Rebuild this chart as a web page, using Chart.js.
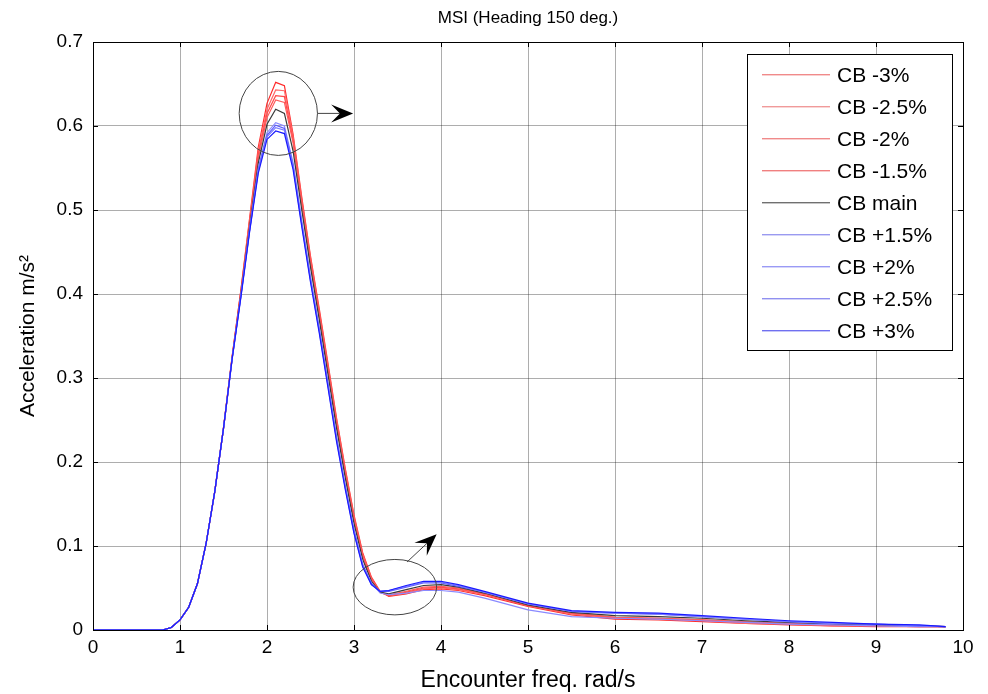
<!DOCTYPE html>
<html>
<head>
<meta charset="utf-8">
<title>MSI (Heading 150 deg.)</title>
<script src="https://cdn.jsdelivr.net/npm/chart.js@4.4.1/dist/chart.umd.min.js"></script>
<style>
html,body{margin:0;padding:0;background:#fff;}
#wrap{width:988px;height:694px;}
</style>
</head>
<body>
<div id="wrap"><canvas id="mainChart" width="988" height="694"></canvas></div>
<script>

/* DATA */

const chartTitle = "MSI (Heading 150 deg.)";

const xTitle = "Encounter freq. rad/s";

const yTitle = "Acceleration m/s\u00B2";

const xTickLabels = ["0","1","2","3","4","5","6","7","8","9","10"];

const yTickLabels = ["0","0.1","0.2","0.3","0.4","0.5","0.6","0.7"];

const seriesNames = ["CB -3%","CB -2.5%","CB -2%","CB -1.5%","CB main","CB +1.5%","CB +2%","CB +2.5%","CB +3%"];

const freq = [0,0.8,0.9,1.0,1.1,1.2,1.3,1.4,1.5,1.6,1.7,1.8,1.9,2.0,2.1,2.2,2.3,2.4,2.5,2.6,2.7,2.8,2.9,3.0,3.1,3.2,3.3,3.4,3.6,3.8,4.0,4.2,4.5,5.0,5.5,6.0,6.5,7.0,7.5,8.0,8.5,9.0,9.5,9.8];

const cbM30 = [0,0,0.003,0.012,0.027,0.055,0.103,0.165,0.241,0.326,0.405,0.490,0.575,0.627,0.652,0.648,0.590,0.515,0.445,0.383,0.318,0.252,0.192,0.137,0.092,0.063,0.046,0.040,0.043,0.048,0.049,0.047,0.041,0.028,0.018,0.013,0.012,0.010,0.008,0.006,0.005,0.004,0.004,0.004];

const cbM25 = [0,0,0.003,0.012,0.027,0.055,0.103,0.165,0.241,0.326,0.404,0.488,0.570,0.620,0.643,0.642,0.587,0.512,0.443,0.380,0.315,0.250,0.190,0.135,0.090,0.062,0.045,0.041,0.044,0.049,0.050,0.048,0.042,0.029,0.019,0.014,0.013,0.011,0.008,0.007,0.005,0.005,0.004,0.004];

const cbM20 = [0,0,0.003,0.012,0.027,0.055,0.103,0.165,0.240,0.325,0.403,0.486,0.566,0.615,0.636,0.635,0.583,0.510,0.440,0.378,0.312,0.247,0.188,0.133,0.088,0.061,0.045,0.041,0.045,0.050,0.051,0.049,0.043,0.029,0.020,0.015,0.014,0.012,0.009,0.007,0.006,0.005,0.004,0.004];

const cbM15 = [0,0,0.003,0.012,0.027,0.055,0.103,0.165,0.240,0.325,0.402,0.484,0.562,0.610,0.631,0.628,0.580,0.507,0.437,0.375,0.310,0.245,0.186,0.131,0.087,0.060,0.045,0.042,0.046,0.051,0.052,0.050,0.043,0.030,0.020,0.015,0.014,0.012,0.010,0.008,0.006,0.005,0.005,0.004];

const cbMain = [0,0,0.003,0.012,0.027,0.055,0.103,0.165,0.240,0.324,0.400,0.480,0.556,0.602,0.620,0.615,0.570,0.500,0.432,0.370,0.305,0.240,0.181,0.127,0.084,0.058,0.045,0.043,0.048,0.053,0.054,0.051,0.044,0.030,0.021,0.017,0.016,0.014,0.011,0.009,0.007,0.006,0.005,0.004];

const cbP15 = [0,0,0.003,0.012,0.027,0.055,0.103,0.165,0.240,0.324,0.398,0.477,0.550,0.592,0.604,0.600,0.556,0.487,0.420,0.360,0.295,0.230,0.172,0.120,0.079,0.056,0.044,0.042,0.044,0.047,0.047,0.045,0.038,0.024,0.016,0.014,0.013,0.011,0.009,0.007,0.006,0.005,0.004,0.004];

const cbP20 = [0,0,0.003,0.012,0.027,0.055,0.103,0.165,0.240,0.324,0.398,0.476,0.548,0.589,0.601,0.597,0.553,0.484,0.418,0.358,0.293,0.228,0.170,0.118,0.077,0.055,0.046,0.046,0.051,0.056,0.056,0.052,0.045,0.031,0.022,0.020,0.019,0.016,0.013,0.010,0.008,0.007,0.005,0.004];

const cbP25 = [0,0,0.003,0.012,0.027,0.055,0.103,0.165,0.240,0.323,0.397,0.475,0.546,0.587,0.598,0.595,0.551,0.482,0.416,0.356,0.291,0.226,0.169,0.116,0.076,0.054,0.046,0.047,0.052,0.057,0.057,0.053,0.045,0.031,0.022,0.020,0.019,0.016,0.013,0.010,0.008,0.007,0.005,0.004];

const cbP30 = [0,0,0.003,0.012,0.027,0.055,0.103,0.165,0.240,0.323,0.396,0.474,0.544,0.584,0.594,0.591,0.548,0.480,0.414,0.354,0.289,0.224,0.167,0.115,0.075,0.054,0.046,0.047,0.053,0.058,0.058,0.054,0.046,0.032,0.023,0.021,0.020,0.017,0.014,0.011,0.009,0.007,0.006,0.004];

const seriesValues = [cbM30,cbM25,cbM20,cbM15,cbMain,cbP15,cbP20,cbP25,cbP30];

/* STYLE */

const lineColors = ["#ff2a2a","#ff6a6a","#ff4a4a","#ff5a5a","#3a3a3a","#8a8aff","#5a5aff","#7a7aff","#1a1aff"];

const legendColors = ["#f08a8a","#f09a9a","#f08a8a","#f08080","#707070","#9a9af0","#9a9af5","#9090f0","#7070f0"];

const fontFamily = 'Arial, "Liberation Sans", sans-serif';

Chart.defaults.font.family = fontFamily;
Chart.defaults.color = "#000";

/* EXTRA DRAWING: box, inner ticks, title, circles, arrows, legend */

function drawArrow(g, x0, y0, x1, y1){

const ang = Math.atan2(y1-y0, x1-x0);
const c = Math.cos(ang), s = Math.sin(ang);
const L = 22, W = 9;

g.beginPath();
g.moveTo(x0,y0);
g.lineTo(x1 - L*0.6*c, y1 - L*0.6*s);
g.stroke();

const bx = x1 - L*c, by = y1 - L*s;
const nx = x1 - L*0.6*c, ny = y1 - L*0.6*s;

g.beginPath();
g.moveTo(x1,y1);
g.lineTo(bx - s*W, by + c*W);
g.lineTo(nx, ny);
g.lineTo(bx + s*W, by - c*W);
g.closePath();
g.fill();

}

const extras = {

id:"extras",

afterDraw(chart){

const g = chart.ctx;
const a = chart.chartArea;
const x = chart.scales.x, y = chart.scales.y;

g.save();

/* BOX */

g.strokeStyle = "#000";
g.lineWidth = 1;
g.strokeRect(Math.round(a.left)+0.5, Math.round(a.top)+0.5, Math.round(a.right-a.left), Math.round(a.bottom-a.top));

/* INNER TICKS */

g.beginPath();

xTickLabels.forEach((t,i)=>{
const px = Math.round(x.getPixelForValue(i))+0.5;
g.moveTo(px, a.bottom); g.lineTo(px, a.bottom-5);
g.moveTo(px, a.top); g.lineTo(px, a.top+5);
});

yTickLabels.forEach((t,i)=>{
const py = Math.round(y.getPixelForValue(i/10))+0.5;
g.moveTo(a.left, py); g.lineTo(a.left+5, py);
g.moveTo(a.right, py); g.lineTo(a.right-5, py);
});

g.stroke();

/* TITLE */

g.fillStyle = "#000";
g.font = "17px " + fontFamily;
g.textAlign = "center";
g.textBaseline = "middle";
g.fillText(chartTitle, (a.left+a.right)/2, a.top/2 - 3);

/* CIRCLES AND ARROWS */

g.strokeStyle = "#444";
g.fillStyle = "#000";
g.lineWidth = 1;

const c1x = x.getPixelForValue(2.13), c1y = y.getPixelForValue(0.615);
const c1rx = x.getPixelForValue(2.13+0.45) - c1x;
const c1ry = y.getPixelForValue(0.615-0.05) - c1y;

g.beginPath();
g.ellipse(c1x, c1y, c1rx, c1ry, 0, 0, Math.PI*2);
g.stroke();

drawArrow(g, c1x + c1rx, c1y, x.getPixelForValue(2.99), c1y);

const c2x = x.getPixelForValue(3.47), c2y = y.getPixelForValue(0.051);
const c2rx = x.getPixelForValue(3.47+0.48) - c2x;
const c2ry = y.getPixelForValue(0.051-0.033) - c2y;

g.beginPath();
g.ellipse(c2x, c2y, c2rx, c2ry, 0, 0, Math.PI*2);
g.stroke();

drawArrow(g, x.getPixelForValue(3.61), y.getPixelForValue(0.081), x.getPixelForValue(3.95), y.getPixelForValue(0.114));

/* LEGEND */

const lw = 205, lh = 296;
const lx = Math.round(a.right - 11 - lw), ly = Math.round(a.top + 12);

g.fillStyle = "#fff";
g.fillRect(lx, ly, lw, lh);
g.strokeStyle = "#000";
g.lineWidth = 1;
g.strokeRect(lx+0.5, ly+0.5, lw, lh);

g.font = "21px " + fontFamily;
g.textAlign = "left";
g.textBaseline = "middle";

seriesNames.forEach((name,i)=>{
const ry = ly + 20 + i*32;
g.fillStyle = legendColors[i];
g.fillRect(lx+15, ry, 68, 1.4);
g.fillStyle = "#000";
g.fillText(name, lx+90, ry+2);
});

g.restore();

}

};

/* CHART SETUP */

const ctx =
document.getElementById("mainChart");

const chart = new Chart(ctx, {

type:"line",

data:{

datasets: seriesNames.map((name,i)=>({

label:name,

data: freq.map((f,j)=>({x:f, y:seriesValues[i][j]})),

borderColor: lineColors[i],

borderWidth: 1.2,

pointRadius: 0,

fill: false,

tension: 0,

order: seriesNames.length - 1 - i

}))

},

options:{

responsive:false,

animation:false,

layout:{

padding:{left:0, right:25, top:42, bottom:0}

},

plugins:{

legend:{display:false},

tooltip:{enabled:false},

title:{display:false}

},

scales:{

x:{

type:"linear",

min:0,

max:10,

ticks:{

stepSize:1,

color:"#000",

padding:6,

maxRotation:0,

font:{size:19},

callback:(v)=>xTickLabels[Math.round(v)]

},

grid:{

color:"rgba(0,0,0,0.32)",

drawTicks:false

},

border:{color:"#000", width:1},

title:{

display:true,

text:xTitle,

color:"#000",

font:{size:23},

padding:{top:0, bottom:0}

},

afterFit:(s)=>{ s.height = 64; }

},

y:{

min:0,

max:0.7,

ticks:{

stepSize:0.1,

color:"#000",

padding:10,

font:{size:19},

callback:(v)=>yTickLabels[Math.round(v*10)]

},

grid:{

color:"rgba(0,0,0,0.32)",

drawTicks:false

},

border:{color:"#000", width:1},

title:{

display:true,

text:yTitle,

color:"#000",

font:{size:21},

padding:{top:16, bottom:0}

},

afterFit:(s)=>{ s.width = 93; }

}

}

},

plugins:[extras]

});

</script>
</body>
</html>
